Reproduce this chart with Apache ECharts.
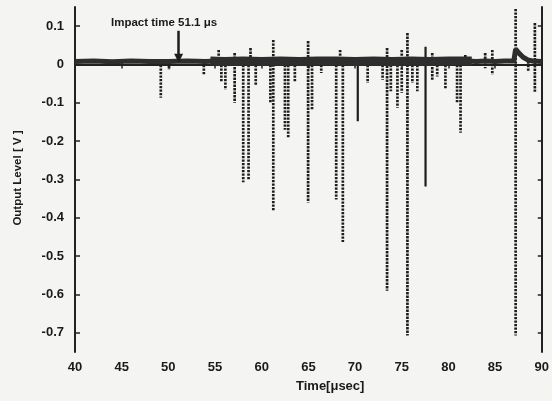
<!DOCTYPE html>
<html>
<head>
<meta charset="utf-8">
<script src="https://cdn.jsdelivr.net/npm/echarts@6/dist/echarts.min.js"></script>
<style>
  html, body { margin: 0; padding: 0; background: #f4f4f2; }
  #chart { width: 552px; height: 401px; }
</style>
</head>
<body>
<div id="chart"></div>
<script>
// Output level of the sensor versus time, with the impact instant marked.

const xTicks = [40, 45, 50, 55, 60, 65, 70, 75, 80, 85, 90];
const yTicks = [0.1, 0, -0.1, -0.2, -0.3, -0.4, -0.5, -0.6, -0.7];

const impactTime = 51.1;

// Quiet stretches of the trace (before the burst and after it)
const quietTime  = [40, 42, 44, 46, 48, 50, 52, 54, 55, 82, 83, 84, 85, 86, 87.0, 87.2, 87.5, 88.0, 88.5, 89.0, 90];
const quietLevel = [0.008, 0.009, 0.007, 0.009, 0.008, 0.008, 0.009, 0.008, 0.009, 0.009, 0.008, 0.009, 0.008, 0.009, 0.009, 0.040, 0.031, 0.019, 0.012, 0.009, 0.008];

// Noisy stretch during the burst
const burstTime  = [54.5, 56, 58, 60, 62, 64, 66, 68, 70, 72, 74, 76, 78, 80, 82.5];
const burstLevel = [0.009, 0.008, 0.009, 0.008, 0.009, 0.008, 0.009, 0.009, 0.008, 0.009, 0.008, 0.009, 0.008, 0.009, 0.009];

// Individual excursions: time, highest and lowest level reached
const spikeTime = [49.19, 50.07, 53.80, 55.39, 55.68, 56.11, 57.10, 58.02, 58.59, 58.80, 59.36, 60.93, 61.24,
                   62.49, 62.84, 63.55, 64.97, 65.39, 66.38, 67.98, 68.40, 68.69, 71.35, 72.95, 73.43, 73.83,
                   74.54, 75.00, 75.61, 76.14, 76.67, 78.27, 78.80, 79.68, 80.93, 81.30, 81.81, 83.94, 84.70,
                   87.20, 88.55, 89.26];
const spikeHigh = [0.008, 0.005, 0.008, 0.038, 0.008, 0.008, 0.030, 0.008, 0.008, 0.043, 0.008, 0.008, 0.064,
                   0.008, 0.008, 0.008, 0.061, 0.008, 0.008, 0.008, 0.038, 0.008, 0.008, 0.008, 0.043, 0.008,
                   0.008, 0.038, 0.082, 0.008, 0.008, 0.030, 0.008, 0.008, 0.008, 0.008, 0.025, 0.030, 0.038,
                   0.145, 0.008, 0.108];
const spikeLow  = [-0.087, -0.014, -0.027, 0.008, -0.044, -0.066, -0.100, -0.307, -0.302, 0.008, -0.053, -0.100, -0.380,
                   -0.170, -0.190, -0.044, -0.360, -0.118, -0.022, -0.352, 0.008, -0.463, -0.048, -0.040, -0.590, -0.070,
                   -0.113, -0.074, -0.707, -0.048, -0.070, -0.040, -0.031, -0.062, -0.100, -0.178, 0.008, -0.010, -0.027,
                   -0.707, -0.018, -0.071];

// Excursions traced densely enough to look solid
const denseTime = [70.29, 77.55];
const denseHigh = [0.008, 0.046];
const denseLow  = [-0.148, -0.318];

function pairs(xs, ys) { return xs.map((x, i) => [x, ys[i]]); }
function segments(ts, hi, lo) {
  const out = [];
  ts.forEach((t, i) => { out.push([t, hi[i]], [t, lo[i]], [t, '-']); });
  return out;
}

const ink = '#222';
const font = 'Liberation Sans, Arial, sans-serif';

const chart = echarts.init(document.getElementById('chart'), null, { renderer: 'canvas' });

const axisLine = { show: true, lineStyle: { color: ink, width: 2 } };

chart.setOption({
  backgroundColor: '#f4f4f2',
  animation: false,
  grid: { left: 75, right: 6, top: 7, bottom: 49, containLabel: false },
  xAxis: [
    {
      type: 'value', min: 40, max: 90, interval: 5, position: 'bottom',
      axisLine: axisLine,
      axisTick: { show: true, inside: true, length: 4, lineStyle: { color: ink, width: 1.5 } },
      axisLabel: { margin: 9, fontSize: 13, fontWeight: 'bold', fontFamily: font, color: '#1a1a1a',
                   customValues: xTicks },
      splitLine: { show: false }
    },
    {
      type: 'value', min: 40, max: 90, interval: 5, position: 'top',
      axisLine: axisLine,
      axisTick: { show: true, inside: true, length: 4, lineStyle: { color: ink, width: 1.5 } },
      axisLabel: { show: false },
      splitLine: { show: false }
    }
  ],
  yAxis: [
    {
      type: 'value', min: -0.75, max: 0.15, position: 'left',
      axisLine: axisLine,
      axisTick: { show: true, inside: true, length: 5, lineStyle: { color: ink, width: 1.5 }, customValues: yTicks },
      axisLabel: { margin: 11, fontSize: 13, fontWeight: 'bold', fontFamily: font, color: '#1a1a1a',
                   customValues: yTicks,
                   formatter: v => (Math.abs(v) < 1e-9 ? '0' : v.toFixed(1)) },
      splitLine: { show: false }
    },
    {
      type: 'value', min: -0.75, max: 0.15, position: 'right',
      axisLine: axisLine,
      axisTick: { show: true, inside: true, length: 4, lineStyle: { color: ink, width: 1.5 }, customValues: yTicks },
      axisLabel: { show: false },
      splitLine: { show: false }
    }
  ],
  series: [
    {
      name: 'spikes', type: 'line', symbol: 'none', connectNulls: false, silent: true,
      data: segments(spikeTime, spikeHigh, spikeLow),
      lineStyle: { color: '#1e1e1e', width: 2.7, type: [2.4, 1.1] },
      z: 3
    },
    {
      name: 'dense', type: 'line', symbol: 'none', connectNulls: false, silent: true,
      data: segments(denseTime, denseHigh, denseLow),
      lineStyle: { color: '#1e1e1e', width: 2.2 },
      z: 3
    },
    {
      name: 'burst', type: 'line', symbol: 'none', silent: true,
      data: pairs(burstTime, burstLevel),
      lineStyle: { color: '#2e2e2e', width: 9 },
      z: 4
    },
    {
      name: 'quiet', type: 'line', symbol: 'none', silent: true,
      data: pairs(quietTime, quietLevel),
      lineStyle: { color: '#2e2e2e', width: 5 },
      z: 4,
      markLine: {
        silent: true,
        symbol: ['none', 'triangle'],
        symbolSize: [9, 9],
        label: { show: false },
        lineStyle: { color: '#1e1e1e', width: 2.5, type: 'solid' },
        data: [[{ coord: [impactTime, 0.088] }, { coord: [impactTime, 0.016] }]]
      }
    }
  ],
  graphic: [
    {
      type: 'text', left: 111, top: 17,
      style: { text: 'Impact time ' + impactTime.toFixed(1) + ' μs', fill: '#1a1a1a',
               font: 'bold 11.5px ' + font }
    },
    {
      type: 'text', left: 296, top: 380,
      style: { text: 'Time[μsec]', fill: '#1a1a1a', font: 'bold 13px ' + font }
    },
    {
      type: 'text', x: 18, y: 178, rotation: Math.PI / 2,
      style: { text: 'Output Level [ V ]', fill: '#1a1a1a', font: 'bold 11.5px ' + font,
               align: 'center', verticalAlign: 'middle' }
    }
  ]
});
</script>
</body>
</html>
